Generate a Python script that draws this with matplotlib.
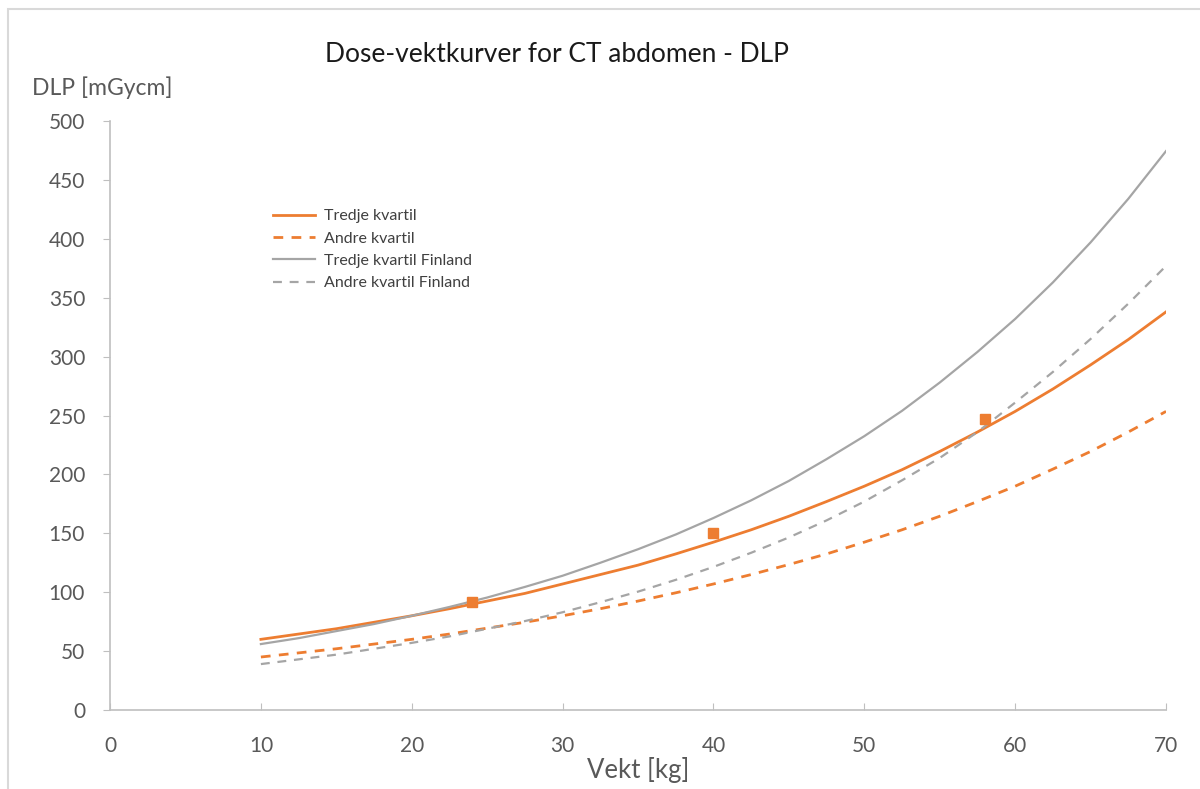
import matplotlib
matplotlib.use("Agg")
import matplotlib.pyplot as plt
from matplotlib.patches import Rectangle

plt.rcParams['font.family'] = ['Lato', 'DejaVu Sans']

# Values (every 2.5 kg)
vekt = [10, 12.5, 15, 17.5, 20, 22.5, 25, 27.5, 30, 32.5, 35, 37.5, 40,
        42.5, 45, 47.5, 50, 52.5, 55, 57.5, 60, 62.5, 65, 67.5, 70]
tredje_kvartil = [60, 64.5, 69, 74.5, 80, 86, 92.5, 99, 107, 115, 123, 132.5, 142.5,
                  153, 164.5, 177, 190, 204, 219.5, 236, 253.5, 272.5, 293, 314.5, 338]
andre_kvartil = [45, 48.5, 52, 56, 60, 64.5, 69.5, 74.5, 80, 86, 92.5, 99.5, 107,
                 115, 123.5, 132.5, 142.5, 153, 164.5, 177, 190, 204.5, 219.5, 236, 253.5]
tredje_finland = [56, 61, 67, 73, 80, 87.5, 95.5, 104.5, 114, 125, 136.5, 149, 163,
                  178, 194.5, 213, 232.5, 254, 278, 304, 332, 363, 397, 434, 474.5]
andre_finland = [39, 43, 47, 52, 57, 62.5, 69, 75.5, 83, 91.5, 100.5, 110.5, 121.5,
                 133.5, 146.5, 161, 177, 195, 214, 236, 261, 287, 315, 345, 377]

punkt_vekt = [24, 40, 58]
punkt_dlp = [92, 150, 247]

orange = '#ED7D31'
grey = '#A5A5A5'
text_grey = '#595959'

fig = plt.figure(figsize=(12, 7.89), dpi=100)
ax = fig.add_axes([0.0917, 0.1001, 0.8800, 0.7465])

# light frame round the chart area
fig.patches.append(Rectangle((8 / 1200, -0.1), 1.2, 1 - 9 / 789 + 0.1,
                             transform=fig.transFigure, fill=False,
                             edgecolor='#D9D9D9', linewidth=1.5))

ax.plot(vekt, tredje_kvartil, color=orange, lw=2.0, label='Tredje kvartil')
ax.plot(vekt, andre_kvartil, color=orange, lw=2.0, ls=(0, (3.5, 3)), label='Andre kvartil')
ax.plot(vekt, tredje_finland, color=grey, lw=1.6, label='Tredje kvartil Finland')
ax.plot(vekt, andre_finland, color=grey, lw=1.6, ls=(0, (4, 3.5)), label='Andre kvartil Finland')
ax.plot(punkt_vekt, punkt_dlp, ls='none', marker='s', ms=7, color=orange)

ax.set_xlim(0, 70)
ax.set_ylim(0, 500)
ax.set_xticks(range(0, 71, 10))
ax.set_yticks(range(0, 501, 50))

for side in ['top', 'right']:
    ax.spines[side].set_visible(False)
for side in ['left', 'bottom']:
    ax.spines[side].set_color('#BFBFBF')
    ax.spines[side].set_linewidth(1.2)

ax.tick_params(axis='x', direction='in', length=5, color='#BFBFBF',
               labelsize=15, labelcolor=text_grey, pad=19)
ax.tick_params(axis='y', direction='out', length=5, color='#BFBFBF',
               labelsize=15, labelcolor=text_grey, pad=13)

fig.text(638 / 1200, 1 - 770 / 789, 'Vekt [kg]', fontsize=18.5, color=text_grey,
         ha='center', va='center')
fig.text(32 / 1200, 1 - 88 / 789, 'DLP [mGycm]', fontsize=16.5, color=text_grey,
         ha='left', va='center')
fig.text(557 / 1200, 1 - 55 / 789, 'Dose-vektkurver for CT abdomen - DLP',
         fontsize=19, color='#1a1a1a', ha='center', va='center')

leg = ax.legend(loc='upper left', bbox_to_anchor=(0.141, 0.875), frameon=False,
                fontsize=11.5, handlelength=2.6, handletextpad=0.6, labelspacing=0.51)
for t in leg.get_texts():
    t.set_color('#404040')

fig.savefig('out.png', dpi=100)
